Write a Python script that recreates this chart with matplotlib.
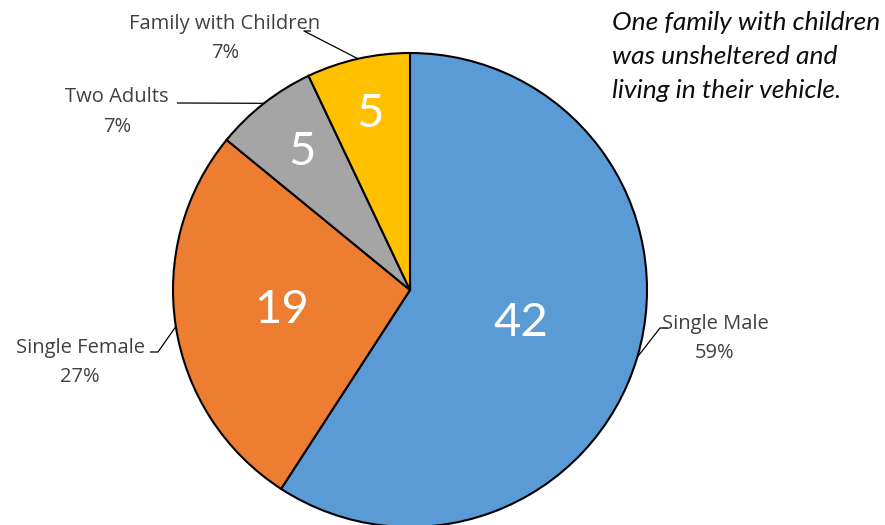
import numpy as np
import matplotlib.pyplot as plt

categories = ['Single Male', 'Single Female', 'Two Adults', 'Family with Children']
counts = [42, 19, 5, 5]
colors = ['#5B9BD5', '#ED7D31', '#A5A5A5', '#FFC000']
note = 'One family with children\nwas unsheltered and\nliving in their vehicle.'

W, H = 885, 525
plt.rcParams['font.family'] = ['Lato', 'DejaVu Sans']

fig = plt.figure(figsize=(W / 100, H / 100), dpi=100)
ax = fig.add_axes([0, 0, 1, 1])

# pie drawn in pixel-sized data units so the layout is easy to place
cx, cy, r = 410, H - 290, 237
wedges, _ = ax.pie(counts, colors=colors, startangle=90, counterclock=False,
                   center=(cx, cy), radius=r,
                   wedgeprops=dict(edgecolor='black', linewidth=1.5))
ax.set_xlim(0, W)
ax.set_ylim(0, H)
ax.set_aspect('equal')
ax.axis('off')

total = sum(counts)

# counts inside the wedges (radial fraction per wedge)
inner_pos = [0.49, 0.55, 0.74, 0.76]
for w, n, f in zip(wedges, counts, inner_pos):
    mid = np.deg2rad((w.theta1 + w.theta2) / 2)
    ax.text(cx + f * r * np.cos(mid), cy + f * r * np.sin(mid), str(n),
            color='white', fontsize=34, ha='center', va='center')

# outside labels: text centre, leader elbow, leader end (pixels from top-left)
label_xy = [(715, 339), (80, 363), (117, 112), (225, 39)]
elbows = [(660, 328), (158, 352), (177, 103), (304, 31)]
ends = [(668, 328), (150, 352), (177, 103), (311, 31)]

for w, name, n, (tx, ty), (ex, ey), (fx, fy) in zip(wedges, categories, counts,
                                                     label_xy, elbows, ends):
    mid = np.deg2rad((w.theta1 + w.theta2) / 2)
    px, py = cx + r * np.cos(mid), cy + r * np.sin(mid)
    ax.plot([px, ex, fx], [py, H - ey, H - fy], color='black', lw=0.9,
            solid_capstyle='butt')
    pct = round(n / total * 100)
    ax.text(tx, H - ty, f'{name}\n{pct}%', color='#404040', fontsize=14.5,
            family=['Open Sans', 'DejaVu Sans'],
            ha='center', va='center', linespacing=1.6)

ax.text(612, H - 11, note, style='italic', fontsize=19, color='#0D0D0D',
        ha='left', va='top', linespacing=1.57)

fig.savefig('out.png', dpi=100)
